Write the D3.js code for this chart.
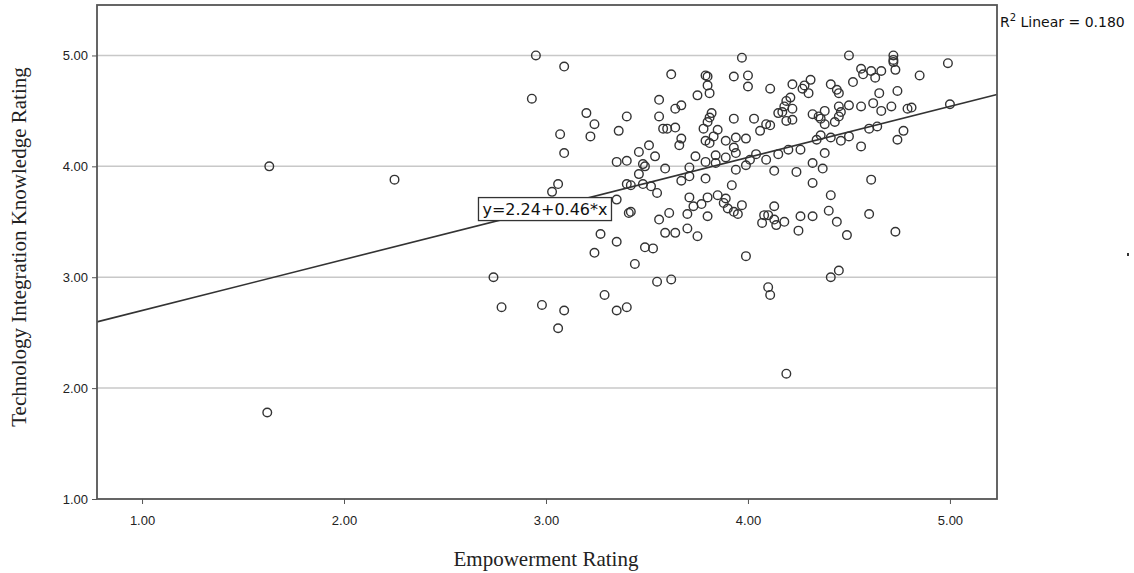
<!DOCTYPE html>
<html>
<head>
<meta charset="utf-8">
<script src="https://cdn.jsdelivr.net/npm/d3@7"></script>
<style>
  body { margin: 0; background: #fff; }
  .axis text { font-family: "Liberation Sans", Arial, sans-serif; font-size: 13px; fill: #222; }
  .titulo-eje { font-family: "Liberation Serif", "Times New Roman", serif; font-size: 21px; fill: #222; }
</style>
</head>
<body>
<div id="graf"></div>
<script>
// Datos
const empowerment = [
  1.63, 2.25, 1.62, 2.95, 3.09, 2.93, 3.20, 3.24, 3.07, 3.22, 3.36, 3.09, 3.35, 3.06, 3.03, 3.35,
  3.27, 3.35, 3.24, 2.74, 2.78, 2.98, 3.09, 3.06, 3.29, 3.35, 3.97, 3.62, 3.79, 3.80, 3.93, 4.00,
  3.80, 4.00, 3.81, 3.75, 3.56, 3.64, 3.67, 3.40, 3.56, 3.82, 3.81, 3.80, 3.78, 3.93, 3.58, 3.60,
  3.64, 3.85, 3.67, 3.66, 3.79, 3.81, 3.83, 3.89, 3.94, 3.99, 3.93, 3.94, 3.51, 3.46, 3.54, 3.74,
  3.84, 3.84, 3.89, 3.40, 3.48, 3.49, 3.59, 3.71, 3.79, 3.94, 3.99, 3.46, 3.71, 3.40, 3.42, 3.48,
  3.52, 3.55, 3.67, 3.79, 3.92, 3.71, 3.80, 3.85, 3.89, 3.41, 3.42, 3.77, 3.73, 3.88, 3.90, 3.93,
  3.95, 3.97, 3.61, 3.56, 3.70, 3.80, 3.59, 3.64, 3.70, 3.75, 3.49, 3.53, 3.44, 3.99, 3.55, 3.62,
  3.40, 4.50, 4.11, 4.22, 4.27, 4.28, 4.31, 4.30, 4.41, 4.44, 4.45, 4.52, 4.56, 4.57, 4.61, 4.63,
  4.21, 4.19, 4.18, 4.17, 4.15, 4.22, 4.19, 4.22, 4.03, 4.09, 4.11, 4.06, 4.32, 4.35, 4.38, 4.36,
  4.38, 4.43, 4.45, 4.45, 4.46, 4.50, 4.56, 4.62, 4.65, 4.04, 4.01, 4.09, 4.13, 4.15, 4.20, 4.26,
  4.24, 4.32, 4.37, 4.38, 4.34, 4.36, 4.41, 4.46, 4.50, 4.56, 4.60, 4.64, 4.32, 4.41, 4.61, 4.08,
  4.10, 4.07, 4.13, 4.13, 4.14, 4.18, 4.26, 4.32, 4.25, 4.40, 4.44, 4.49, 4.60, 4.41, 4.45, 4.10,
  4.11, 4.19, 4.72, 4.72, 4.72, 4.99, 4.66, 4.73, 4.85, 4.74, 4.66, 4.71, 4.79, 4.81, 5.00, 4.77,
  4.74, 4.73
]
const techKnowledge = [
  4.00, 3.88, 1.78, 5.00, 4.90, 4.61, 4.48, 4.38, 4.29, 4.27, 4.32, 4.12, 4.04, 3.84, 3.77, 3.70,
  3.39, 3.32, 3.22, 3.00, 2.73, 2.75, 2.70, 2.54, 2.84, 2.70, 4.98, 4.83, 4.82, 4.81, 4.81, 4.82,
  4.73, 4.72, 4.66, 4.64, 4.60, 4.52, 4.55, 4.45, 4.45, 4.48, 4.44, 4.40, 4.34, 4.43, 4.34, 4.34,
  4.35, 4.33, 4.25, 4.19, 4.23, 4.21, 4.27, 4.23, 4.26, 4.25, 4.17, 4.12, 4.19, 4.13, 4.09, 4.09,
  4.10, 4.03, 4.08, 4.05, 4.02, 4.00, 3.98, 3.99, 4.04, 3.97, 4.01, 3.93, 3.91, 3.84, 3.83, 3.84,
  3.82, 3.76, 3.87, 3.89, 3.83, 3.72, 3.72, 3.74, 3.71, 3.58, 3.59, 3.66, 3.64, 3.67, 3.62, 3.59,
  3.57, 3.65, 3.58, 3.52, 3.57, 3.55, 3.40, 3.40, 3.44, 3.37, 3.27, 3.26, 3.12, 3.19, 2.96, 2.98,
  2.73, 5.00, 4.70, 4.74, 4.70, 4.73, 4.78, 4.66, 4.74, 4.69, 4.66, 4.76, 4.88, 4.83, 4.86, 4.80,
  4.62, 4.59, 4.54, 4.49, 4.48, 4.52, 4.41, 4.42, 4.43, 4.38, 4.37, 4.32, 4.47, 4.45, 4.50, 4.43,
  4.38, 4.40, 4.45, 4.54, 4.49, 4.55, 4.54, 4.57, 4.66, 4.11, 4.06, 4.06, 3.96, 4.11, 4.15, 4.15,
  3.95, 4.03, 3.98, 4.12, 4.24, 4.28, 4.26, 4.23, 4.27, 4.18, 4.34, 4.36, 3.85, 3.74, 3.88, 3.56,
  3.56, 3.49, 3.64, 3.52, 3.47, 3.50, 3.55, 3.55, 3.42, 3.60, 3.50, 3.38, 3.57, 3.00, 3.06, 2.91,
  2.84, 2.13, 5.00, 4.96, 4.94, 4.93, 4.86, 4.87, 4.82, 4.68, 4.50, 4.54, 4.52, 4.53, 4.56, 4.32,
  4.24, 3.41
]
const xTicks = [1, 2, 3, 4, 5]
const yTicks = [1, 2, 3, 4, 5]
const intercepto = 2.24
const pendiente = 0.46
const r2 = 0.180

const data = empowerment.map((d, i) => ({ x: d, y: techKnowledge[i] }))

// Dimensiones
const anchoTotal = 1134
const altoTotal = 573
const margins = { top: 5, right: 137, bottom: 74, left: 97 }
const ancho = anchoTotal - margins.left - margins.right
const alto = altoTotal - margins.top - margins.bottom

const svg = d3
  .select("#graf")
  .append("svg")
  .attr("width", anchoTotal)
  .attr("height", altoTotal)

const g = svg
  .append("g")
  .attr("transform", `translate(${margins.left}, ${margins.top})`)

// Escaladores
const x = d3.scaleLinear().domain([0.777, 5.233]).range([0, ancho])
const y = d3.scaleLinear().domain([1, 5.455]).range([alto, 0])

// Rejilla
g.selectAll("line.grid")
  .data(yTicks.slice(1))
  .enter()
  .append("line")
  .attr("x1", 0)
  .attr("x2", ancho)
  .attr("y1", (d) => y(d))
  .attr("y2", (d) => y(d))
  .attr("stroke", "#c8c8c8")
  .attr("stroke-width", 1.5)

// Ejes
const xAxis = d3.axisBottom(x).tickValues(xTicks).tickFormat(d3.format(".2f")).tickSize(5).tickSizeOuter(0)
const yAxis = d3.axisLeft(y).tickValues(yTicks).tickFormat(d3.format(".2f")).tickSize(5).tickSizeOuter(0)

const xAxisGroup = g
  .append("g")
  .attr("transform", `translate(0, ${alto})`)
  .classed("axis", true)
  .call(xAxis)
xAxisGroup.select(".domain").remove()
xAxisGroup.selectAll("line").attr("stroke", "#555")
xAxisGroup.selectAll("text").attr("dy", "1.35em")

const yAxisGroup = g.append("g").classed("axis", true).call(yAxis)
yAxisGroup.select(".domain").remove()
yAxisGroup.selectAll("line").attr("stroke", "#555")
yAxisGroup.selectAll("text").attr("x", -9)

// Linea de regresion
const [x0, x1] = x.domain()
g.append("line")
  .attr("x1", x(x0))
  .attr("y1", y(intercepto + pendiente * x0))
  .attr("x2", x(x1))
  .attr("y2", y(intercepto + pendiente * x1))
  .attr("stroke", "#333")
  .attr("stroke-width", 1.6)

// Puntos
g.selectAll("circle")
  .data(data)
  .enter()
  .append("circle")
  .attr("cx", (d) => x(d.x))
  .attr("cy", (d) => y(d.y))
  .attr("r", 4.3)
  .attr("fill", "none")
  .attr("stroke", "#333")
  .attr("stroke-width", 1.4)

// Etiqueta de la ecuacion
const eq = g.append("g").attr("transform", `translate(${x(2.995)}, ${y(3.617)})`)
const eqText = eq
  .append("text")
  .attr("text-anchor", "middle")
  .attr("dy", "0.36em")
  .style("font-family", "'DejaVu Sans', Verdana, sans-serif")
  .style("font-size", "16px")
  .attr("fill", "#111")
  .text(`y=${intercepto.toFixed(2)}+${pendiente.toFixed(2)}*x`)
const bb = eqText.node().getBBox()
eq.insert("rect", "text")
  .attr("x", bb.x - 4)
  .attr("y", bb.y - 2)
  .attr("width", bb.width + 8)
  .attr("height", bb.height + 4)
  .attr("fill", "#fff")
  .attr("stroke", "#333")
  .attr("stroke-width", 1.3)

// Marco
g.append("rect")
  .attr("x", 0)
  .attr("y", 0)
  .attr("width", ancho)
  .attr("height", alto)
  .attr("fill", "none")
  .attr("stroke", "#555")
  .attr("stroke-width", 1.8)

// R2
const r2Text = svg
  .append("text")
  .attr("x", margins.left + ancho + 3)
  .attr("y", 27)
  .style("font-family", "'DejaVu Sans', Verdana, sans-serif")
  .style("font-size", "14px")
  .attr("fill", "#111")
r2Text.append("tspan").text("R")
r2Text.append("tspan").attr("dy", -6).style("font-size", "10px").text("2")
r2Text.append("tspan").attr("dy", 6).text(` Linear = ${r2.toFixed(3)}`)

// Titulos de ejes
svg.append("text")
  .attr("x", margins.left + x(3.0))
  .attr("y", 566)
  .attr("text-anchor", "middle")
  .classed("titulo-eje", true)
  .text("Empowerment Rating")

svg.append("text")
  .attr("transform", `translate(26, 247) rotate(-90)`)
  .attr("text-anchor", "middle")
  .classed("titulo-eje", true)
  .text("Technology Integration Knowledge Rating")

// marca suelta a la derecha
svg.append("rect")
  .attr("x", 1127)
  .attr("y", 253)
  .attr("width", 2)
  .attr("height", 3)
  .attr("fill", "#333")
</script>
</body>
</html>
